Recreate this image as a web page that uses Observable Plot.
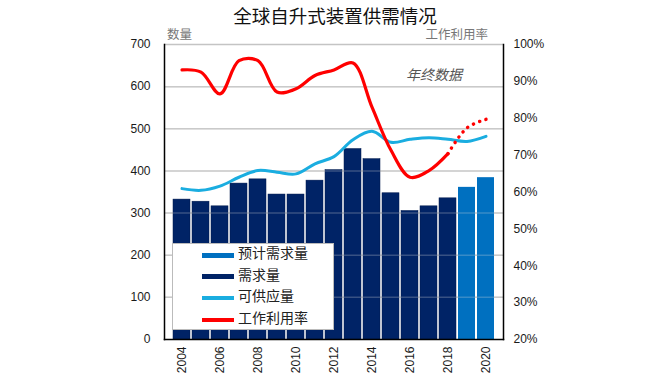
<!DOCTYPE html>
<html><head><meta charset="utf-8">
<script src="https://cdn.jsdelivr.net/npm/d3@7"></script>
<script src="https://cdn.jsdelivr.net/npm/@observablehq/plot@0.6"></script>
<style>
body{margin:0;background:#fff;}
#wrap{position:relative;width:670px;height:380px;overflow:hidden;font-family:"Noto Sans CJK SC",sans-serif;}
.t{position:absolute;white-space:nowrap;line-height:1;}
#legend{position:absolute;left:172px;top:243px;width:162px;height:87px;background:#fff;border:1px solid #bbb;box-sizing:border-box;}
.row{position:absolute;left:0;height:20px;}
.sw{position:absolute;left:29px;width:32px;}
.lt{position:absolute;left:65px;font-size:14px;color:#222;line-height:1;}
</style></head>
<body>
<div id="wrap"></div>
<script>
const years = [2004,2005,2006,2007,2008,2009,2010,2011,2012,2013,2014,2015,2016,2017,2018,2019,2020];
const demandYears = [2004,2005,2006,2007,2008,2009,2010,2011,2012,2013,2014,2015,2016,2017,2018];
const demand = [332,327,316,370,380,344,344,377,402,452,428,347,305,316,335];
const forecastYears = [2019,2020];
const forecastDemand = [361,384];
const supply = [358,354,364,385,401,397,393,417,434,474,494,468,475,479,475,470,482];
const utilYears = [2004,2005,2006,2007,2008,2009,2010,2011,2012,2013,2014,2015,2016,2017,2018];
const util = [93.1,92.5,86.6,95.6,95.6,87.1,88.0,91.6,93.1,95.0,83.0,71.3,64.0,65.8,70.4];
const utilFcYears = [2018,2019,2020];
const utilFc = [70.4,77.4,79.7];
const leftTicks = [0,100,200,300,400,500,600,700];
const pctTicks = [20,30,40,50,60,70,80,90,100];
const xTicks = [2004,2006,2008,2010,2012,2014,2016,2018,2020];

const toLeft = p => (p - 20) * 700 / 80;
const toPct = v => Math.round(v * 80 / 700 + 20);

const demandData = demandYears.map((y,i)=>({year:y, value:demand[i]}));
const fcData = forecastYears.map((y,i)=>({year:y, value:forecastDemand[i]}));
const supplyData = years.map((y,i)=>({year:y, value:supply[i]}));
const utilData = utilYears.map((y,i)=>({year:y, value:toLeft(util[i])}));
const utilFcData = utilFcYears.map((y,i)=>({year:y, value:toLeft(utilFc[i])}));

const chart = Plot.plot({
  width: 670, height: 380,
  marginTop: 44, marginBottom: 41, marginLeft: 164, marginRight: 167,
  style: {fontFamily: "'Liberation Sans', Arial, sans-serif", fontSize: "12px", color: "#1a1a1a", background: "transparent"},
  x: {type: "band", domain: years, padding: 0.1, label: null},
  y: {domain: [0, 700], label: null},
  marks: [
    Plot.ruleY(leftTicks.slice(1), {stroke: "#c4c4c4", strokeWidth: 1.5}),
    Plot.barY(demandData, {x: "year", y: "value", fill: "#002366", stroke: "#001a4d", strokeWidth: 0.5}),
    Plot.barY(fcData, {x: "year", y: "value", fill: "#0070c0"}),
    Plot.ruleY(leftTicks.slice(1, 7), {stroke: "#ddd", strokeOpacity: 0.25, strokeWidth: 1.5}),
    Plot.line(supplyData, {x: "year", y: "value", curve: "catmull-rom", stroke: "#1aade0", strokeWidth: 3}),
    Plot.line(utilData, {x: "year", y: "value", curve: "catmull-rom", stroke: "#ff0000", strokeWidth: 3.2}),
    Plot.line(utilFcData, {x: "year", y: "value", curve: "catmull-rom", stroke: "#ff0000", strokeWidth: 3.5, strokeDasharray: "0.1,6.5", strokeLinecap: "round"}),
    Plot.frame({anchor: "left", stroke: "#000", strokeWidth: 1.5}),
    Plot.frame({anchor: "right", stroke: "#000", strokeWidth: 1.5}),
    Plot.frame({anchor: "bottom", stroke: "#000", strokeWidth: 1.5}),
    Plot.axisY(leftTicks, {anchor: "left", tickSize: 0, tickPadding: 14, label: null}),
    Plot.axisY(pctTicks.map(toLeft), {anchor: "right", tickSize: 0, tickPadding: 10, label: null, tickFormat: v => toPct(v) + "%"}),
    Plot.axisX(xTicks, {anchor: "bottom", tickSize: 0, tickPadding: 7, tickRotate: -90, label: null, tickFormat: d => String(d)})
  ]
});
const wrap = document.getElementById("wrap");
wrap.appendChild(chart);

function addText(txt, css){
  const d = document.createElement("div");
  d.className = "t"; d.textContent = txt;
  Object.assign(d.style, css);
  wrap.appendChild(d);
}
addText("全球自升式装置供需情况", {left:"0", width:"670px", textAlign:"center", top:"6px", fontSize:"18.5px", color:"#111"});
addText("数量", {left:"167px", top:"28px", fontSize:"12.5px", color:"#777"});
addText("工作利用率", {right:"182px", top:"28px", fontSize:"12.5px", color:"#777"});
addText("年终数据", {left:"406px", top:"67px", fontSize:"14px", color:"#555", fontStyle:"italic"});

const legendItems = [
  {label:"预计需求量", color:"#0070c0", h:5},
  {label:"需求量", color:"#002366", h:5},
  {label:"可供应量", color:"#1aade0", h:4},
  {label:"工作利用率", color:"#ff0000", h:4}
];
const lg = document.createElement("div"); lg.id = "legend";
legendItems.forEach((it,i)=>{
  const r = document.createElement("div"); r.className = "row";
  r.style.top = (1 + i*21.7) + "px"; r.style.width = "160px";
  const s = document.createElement("div"); s.className = "sw";
  s.style.background = it.color; s.style.height = it.h + "px"; s.style.top = (10 - it.h/2) + "px";
  const t = document.createElement("div"); t.className = "lt"; t.textContent = it.label; t.style.top = "0px";
  r.appendChild(s); r.appendChild(t); lg.appendChild(r);
});
wrap.appendChild(lg);
</script>
</body></html>
